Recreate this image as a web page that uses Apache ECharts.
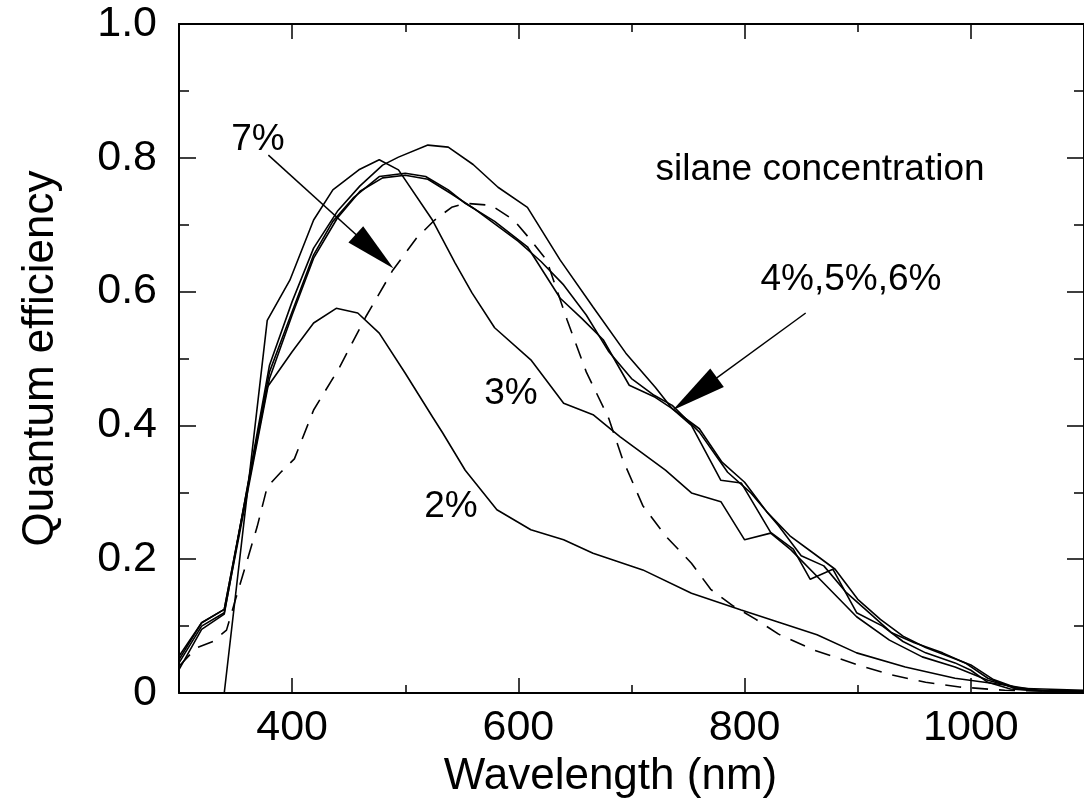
<!DOCTYPE html>
<html>
<head>
<meta charset="utf-8">
<script src="https://cdn.jsdelivr.net/npm/echarts@6.0.0/dist/echarts.min.js"></script>
<style>
html, body { margin: 0; padding: 0; background: #fff; }
#main { width: 1084px; height: 806px; }
</style>
</head>
<body>
<div id="main"></div>
<script>
var myChart = echarts.init(document.getElementById('main'));

var FONT = '"Liberation Sans", Arial, Helvetica, sans-serif';

// tick values
var xLabelValues = [400, 600, 800, 1000];

// quantum efficiency vs wavelength (nm), one array per silane concentration
var qe2 = [[300,0.05],[320,0.105],[340,0.125],[378,0.457],[400,0.51],[419,0.553],[439,0.575],[458,0.568],[477,0.538],[500,0.478],[524,0.413],[533,0.389],[553,0.333],[581,0.274],[611,0.244],[640,0.229],[666,0.209],[710,0.184],[753,0.149],[797,0.124],[864,0.087],[899,0.06],[942,0.039],[986,0.022],[1030,0.012],[1059,0.004],[1100,0.003]];
var qe3 = [[340,0],[378,0.557],[398,0.617],[419,0.707],[436,0.752],[459,0.782],[477,0.797],[494,0.782],[524,0.707],[544,0.643],[559,0.598],[579,0.546],[611,0.498],[640,0.433],[666,0.416],[690,0.383],[730,0.333],[753,0.299],[779,0.286],[800,0.229],[823,0.239],[841,0.214],[870,0.164],[899,0.114],[928,0.079],[957,0.054],[986,0.039],[1015,0.019],[1041,0.007],[1100,0.004]];
var qe4 = [[300,0.055],[320,0.105],[340,0.125],[380,0.48],[400,0.57],[419,0.655],[436,0.705],[454,0.74],[477,0.772],[500,0.777],[518,0.772],[538,0.752],[553,0.732],[579,0.705],[608,0.667],[637,0.59],[656,0.56],[675,0.528],[698,0.46],[721,0.442],[736,0.425],[753,0.40],[779,0.318],[797,0.314],[823,0.24],[843,0.215],[858,0.17],[878,0.185],[899,0.12],[922,0.10],[940,0.077],[960,0.06],[986,0.045],[1000,0.034],[1015,0.016],[1035,0.006],[1060,0.003],[1100,0.002]];
var qe5 = [[300,0.045],[320,0.10],[340,0.12],[380,0.47],[400,0.565],[419,0.65],[440,0.71],[460,0.75],[480,0.77],[500,0.774],[520,0.768],[540,0.747],[560,0.725],[580,0.70],[600,0.675],[620,0.645],[640,0.61],[660,0.565],[680,0.51],[700,0.47],[720,0.445],[736,0.43],[760,0.39],[785,0.33],[805,0.30],[830,0.25],[850,0.205],[870,0.19],[890,0.15],[910,0.12],[930,0.09],[950,0.075],[975,0.06],[995,0.045],[1015,0.022],[1040,0.006],[1070,0.003],[1100,0.002]];
var qe6 = [[300,0.035],[320,0.095],[340,0.118],[380,0.49],[400,0.585],[419,0.665],[440,0.72],[460,0.758],[480,0.789],[494,0.801],[520,0.819],[538,0.816],[560,0.79],[582,0.756],[608,0.726],[637,0.647],[666,0.577],[695,0.508],[721,0.457],[736,0.425],[760,0.395],[780,0.345],[800,0.315],[820,0.27],[840,0.235],[860,0.21],[880,0.185],[900,0.14],[920,0.11],[940,0.085],[960,0.068],[980,0.055],[1000,0.042],[1020,0.02],[1040,0.008],[1065,0.003],[1100,0.002]];
var qe7 = [[300,0.04],[315,0.067],[330,0.077],[342,0.094],[350,0.14],[369,0.248],[378,0.308],[390,0.33],[402,0.35],[419,0.423],[442,0.487],[465,0.562],[489,0.632],[510,0.68],[526,0.707],[541,0.726],[553,0.732],[576,0.729],[596,0.707],[611,0.677],[625,0.647],[643,0.558],[660,0.48],[680,0.41],[692,0.35],[710,0.28],[730,0.235],[753,0.194],[770,0.155],[790,0.13],[810,0.11],[830,0.088],[860,0.065],[900,0.042],[930,0.027],[960,0.016],[990,0.009],[1030,0.004],[1100,0.002]];

// annotation arrows, [from, to] in data units
var arrow7 = [[379, 0.804], [473, 0.660]];
var arrow456 = [[854, 0.568], [756, 0.447]];

function curve(name, data, dashed) {
    return {
        name: name,
        type: 'line',
        data: data,
        xAxisIndex: 0,
        yAxisIndex: 0,
        symbol: 'none',
        silent: true,
        lineStyle: { color: '#000', width: 1.6, type: dashed ? [16, 11] : 'solid' }
    };
}

var axisLine = { lineStyle: { color: '#000', width: 2 } };
var tickStyle = { color: '#000', width: 1.5 };

var xCommon = { type: 'value', min: 300, max: 1100, interval: 100, splitLine: { show: false } };

var series = [
    curve('2%', qe2), curve('3%', qe3), curve('4%', qe4),
    curve('5%', qe5), curve('6%', qe6), curve('7%', qe7, true)
];
series[0].markLine = {
    silent: true,
    animation: false,
    label: { show: false },
    lineStyle: { color: '#000', width: 1.5, type: 'solid' },
    itemStyle: { color: '#000' },
    data: [
        [{ coord: arrow7[0], symbol: 'none' }, { coord: arrow7[1], symbol: 'triangle', symbolSize: [22, 51] }],
        [{ coord: arrow456[0], symbol: 'none' }, { coord: arrow456[1], symbol: 'triangle', symbolSize: [23, 55] }]
    ]
};

var txt = function (s, x, y) {
    return { type: 'text', x: x, y: y, silent: true,
        style: { text: s, font: '37px ' + FONT, fill: '#000', align: 'center', verticalAlign: 'middle' } };
};

option = {
    animation: false,
    backgroundColor: '#fff',
    grid: { left: 179, right: -13, top: 24, bottom: 113 },
    xAxis: [
        echarts.util.merge({
            position: 'bottom',
            axisLine: axisLine,
            axisTick: { inside: true, length: 8, lineStyle: tickStyle },
            axisLabel: {
                customValues: xLabelValues, margin: 14, color: '#000', fontSize: 43, fontFamily: FONT,
                formatter: function (v) { return String(v); }
            },
            name: 'Wavelength (nm)',
            nameLocation: 'middle',
            nameGap: 62,
            nameTextStyle: { color: '#000', fontSize: 44, fontFamily: FONT, padding: [0, 42, 0, 0] }
        }, xCommon),
        echarts.util.merge({
            position: 'bottom',
            axisLine: { show: false },
            axisTick: { inside: true, length: 15, customValues: xLabelValues, lineStyle: tickStyle },
            axisLabel: { show: false }
        }, xCommon),
        echarts.util.merge({
            position: 'top',
            axisLine: axisLine,
            axisTick: { inside: true, length: 8, lineStyle: tickStyle },
            axisLabel: { show: false }
        }, xCommon),
        echarts.util.merge({
            position: 'top',
            axisLine: { show: false },
            axisTick: { inside: true, length: 15, customValues: xLabelValues, lineStyle: tickStyle },
            axisLabel: { show: false }
        }, xCommon)
    ],
    yAxis: [
        {
            type: 'value', position: 'left', min: 0, max: 1, interval: 0.2,
            axisLine: axisLine,
            axisTick: { inside: true, length: 17, lineStyle: tickStyle },
            minorTick: { show: true, splitNumber: 2, length: 10, lineStyle: tickStyle },
            axisLabel: {
                margin: 22, color: '#000', fontSize: 43, fontFamily: FONT,
                formatter: function (v) { return v === 0 ? '0' : v.toFixed(1); }
            },
            splitLine: { show: false },
            name: 'Quantum efficiency',
            nameLocation: 'middle',
            nameGap: 116,
            nameTextStyle: { color: '#000', fontSize: 44, fontFamily: FONT }
        },
        {
            type: 'value', position: 'right', min: 0, max: 1, interval: 0.2,
            axisLine: axisLine,
            axisTick: { inside: true, length: 17, lineStyle: tickStyle },
            minorTick: { show: true, splitNumber: 2, length: 10, lineStyle: tickStyle },
            axisLabel: { show: false },
            splitLine: { show: false }
        }
    ],
    series: series,
    graphic: [
        txt('7%', 258, 140),
        txt('3%', 511, 394),
        txt('2%', 451, 507),
        txt('silane concentration', 820, 170),
        txt('4%,5%,6%', 851, 280)
    ]
};

myChart.setOption(option);
</script>
</body>
</html>
